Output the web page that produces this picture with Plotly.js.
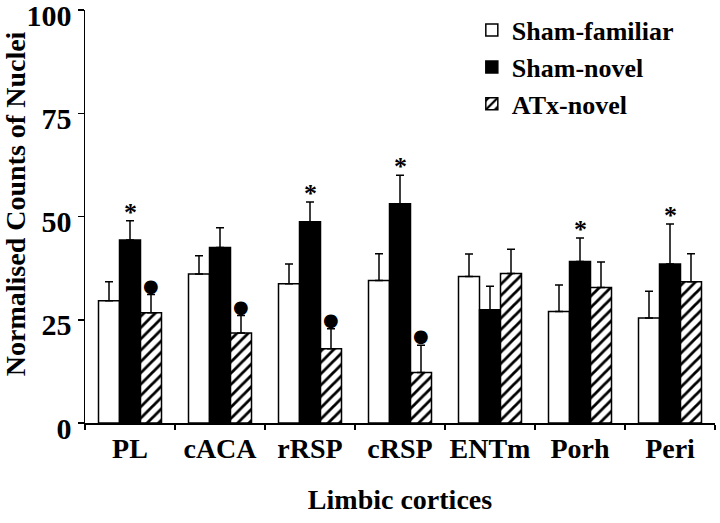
<!DOCTYPE html>
<html>
<head>
<meta charset="utf-8">
<script src="https://cdn.plot.ly/plotly-3.0.1.min.js"></script>
<style>html,body{margin:0;padding:0;background:#fff;}#chart{width:720px;height:523px;}</style>
</head>
<body>
<div id="chart"></div>
<script>
// Data
var categories = ["PL", "cACA", "rRSP", "cRSP", "ENTm", "Porh", "Peri"];
var shamFamiliar = [29.6, 36.1, 33.7, 34.5, 35.5, 27.0, 25.4];
var shamFamiliarErr = [4.6, 4.4, 4.8, 6.5, 5.4, 6.4, 6.5];
var shamNovel = [44.3, 42.5, 48.7, 53.1, 27.4, 39.1, 38.5];
var shamNovelErr = [4.7, 4.8, 4.8, 6.9, 5.7, 5.7, 9.7];
var atxNovel = [26.7, 21.8, 18.0, 12.2, 36.2, 32.8, 34.2];
var atxNovelErr = [4.4, 4.2, 4.8, 6.6, 5.9, 6.2, 6.8];
var noErr = [0, 0, 0, 0, 0, 0, 0];
// significance markers: asterisk over Sham-novel, dot over ATx-novel
var starOnShamNovel = [true, false, true, true, false, true, true];
var dotOnAtxNovel = [true, true, true, true, false, false, false];
var yTicks = [0, 25, 50, 75, 100];

var FONT = "'Liberation Serif', 'Times New Roman', serif";
var BARGAP = 0.3;
var barW = (1 - BARGAP) / 3;

function errY(arr) {
  return {type: 'data', symmetric: false, array: arr, arrayminus: noErr,
          color: '#000', thickness: 1.5, width: 4, visible: true};
}

var traces = [
  {type: 'bar', name: 'Sham-familiar', x: categories, y: shamFamiliar,
   marker: {color: '#fff', line: {color: '#000', width: 1.5}},
   error_y: errY(shamFamiliarErr)},
  {type: 'bar', name: 'Sham-novel', x: categories, y: shamNovel,
   marker: {color: '#000', line: {color: '#000', width: 1.5}},
   error_y: errY(shamNovelErr)},
  {type: 'bar', name: 'ATx-novel', x: categories, y: atxNovel,
   marker: {color: '#fff', line: {color: '#000', width: 1.5},
            pattern: {shape: '/', size: 8, solidity: 0.35, fgcolor: '#000', bgcolor: '#fff'}},
   error_y: errY(atxNovelErr)}
];

var annotations = [];
categories.forEach(function (c, i) {
  if (starOnShamNovel[i]) {
    annotations.push({xref: 'x', yref: 'y', x: i, y: shamNovel[i] + shamNovelErr[i],
      text: '*', showarrow: false, yanchor: 'bottom', yshift: -8,
      font: {family: FONT, size: 26, color: '#000', weight: 'bold'}});
  }
  if (dotOnAtxNovel[i]) {
    annotations.push({xref: 'x', yref: 'y', x: i + barW, y: atxNovel[i] + atxNovelErr[i],
      text: '\u25CF', showarrow: false, yanchor: 'bottom', yshift: -3,
      font: {family: "'DejaVu Sans', sans-serif", size: 18, color: '#000'}});
  }
});
annotations.push({xref: 'paper', yref: 'paper', x: -0.111, y: 0.53,
  xanchor: 'center', yanchor: 'middle', textangle: -90, showarrow: false,
  text: 'Normalised Counts of Nuclei',
  font: {family: FONT, size: 28, color: '#000', weight: 'bold'}});

var layout = {
  width: 720, height: 523,
  margin: {l: 85, r: 5, t: 10, b: 100},
  paper_bgcolor: '#fff', plot_bgcolor: '#fff',
  font: {family: FONT, color: '#000', size: 26, weight: 'bold'},
  barmode: 'group', bargap: BARGAP, bargroupgap: 0,
  showlegend: true,
  legend: {x: 0.614, xanchor: 'left', y: 1.008, yanchor: 'top',
           bgcolor: 'rgba(0,0,0,0)', borderwidth: 0, tracegroupgap: 0,
           font: {family: FONT, size: 26, color: '#000', weight: 'bold'}},
  xaxis: {type: 'category', categoryorder: 'array', categoryarray: categories,
          range: [-0.5, 6.5], showline: true, linecolor: '#000', linewidth: 1.5,
          ticks: 'outside', tickson: 'boundaries', ticklen: 5, tickwidth: 1.5, tickcolor: '#000',
          showgrid: false, zeroline: false, tickangle: 0,
          tickfont: {family: FONT, size: 28, color: '#000', weight: 'bold'},
          title: {text: 'Limbic cortices', standoff: 26,
                  font: {family: FONT, size: 28, color: '#000', weight: 'bold'}}},
  yaxis: {range: [0, 100], tickmode: 'array', tickvals: yTicks,
          showline: true, linecolor: '#000', linewidth: 1.5,
          ticks: 'outside', ticklen: 6, tickwidth: 1.5, tickcolor: '#000',
          showgrid: false, zeroline: false, ticklabeloverflow: 'allow',
          ticklabelshift: 5,
          tickfont: {family: FONT, size: 30, color: '#000', weight: 'bold'}},
  annotations: annotations
};

Plotly.newPlot('chart', traces, layout, {displayModeBar: false, staticPlot: true});
</script>
</body>
</html>
